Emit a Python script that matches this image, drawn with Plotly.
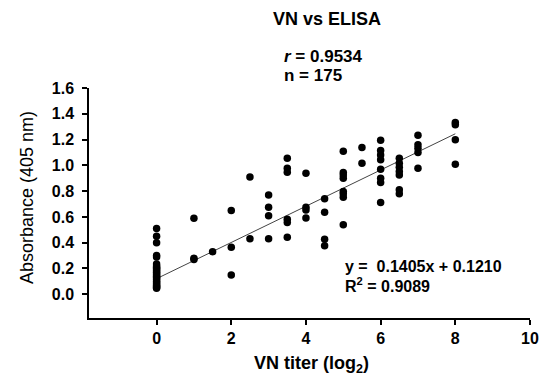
import plotly.graph_objects as go

# VN titer (log2) and absorbance values
x_vals = (
    [0] * 25
    + [1, 1, 1]
    + [1.5]
    + [2, 2, 2]
    + [2.5, 2.5]
    + [3, 3, 3, 3]
    + [3.5] * 6
    + [4] * 4
    + [4.5] * 4
    + [5] * 8
    + [5.5] * 2
    + [6] * 8
    + [6.5] * 7
    + [7] * 5
    + [8] * 4
)
y_vals = (
    [0.51, 0.45, 0.40, 0.30, 0.29, 0.235, 0.22, 0.21, 0.20, 0.19, 0.18, 0.17,
     0.16, 0.15, 0.14, 0.13, 0.12, 0.11, 0.10, 0.09, 0.08, 0.07, 0.06, 0.055, 0.047]
    + [0.59, 0.28, 0.27]
    + [0.33]
    + [0.65, 0.365, 0.15]
    + [0.91, 0.43]
    + [0.77, 0.675, 0.61, 0.43]
    + [1.056, 0.978, 0.947, 0.582, 0.556, 0.443]
    + [0.939, 0.675, 0.654, 0.592]
    + [0.74, 0.637, 0.427, 0.377]
    + [1.11, 0.944, 0.926, 0.90, 0.797, 0.779, 0.753, 0.54]
    + [1.138, 1.017]
    + [1.195, 1.115, 1.08, 1.043, 0.97, 0.90, 0.867, 0.711]
    + [1.056, 1.017, 0.986, 0.952, 0.926, 0.81, 0.779]
    + [1.234, 1.159, 1.133, 1.099, 0.978]
    + [1.332, 1.315, 1.198, 1.009]
)

slope = 0.1405
intercept = 0.1210
fit_x = [0, 8]
fit_y = [slope * v + intercept for v in fit_x]

x_ticks = [0, 2, 4, 6, 8, 10]
y_ticks = [0.0, 0.2, 0.4, 0.6, 0.8, 1.0, 1.2, 1.4, 1.6]

FONT = "Liberation Sans, Arial, sans-serif"

fig = go.Figure()
fig.add_trace(go.Scatter(
    x=fit_x, y=fit_y, mode="lines",
    line=dict(color="#444444", width=1), showlegend=False, hoverinfo="skip"))
fig.add_trace(go.Scatter(
    x=x_vals, y=y_vals, mode="markers",
    marker=dict(color="black", size=7.5, line=dict(width=0)),
    showlegend=False, cliponaxis=False))

fig.update_layout(
    width=546, height=376,
    margin=dict(l=89, r=16, t=88, b=58),
    paper_bgcolor="white", plot_bgcolor="white",
    font=dict(family=FONT, color="black"),
    xaxis=dict(
        range=[-1.81, 10], tickvals=x_ticks, ticktext=[f"<b>{t}</b>" for t in x_ticks],
        showline=True, linecolor="black", linewidth=1.5,
        ticks="outside", ticklen=5, tickwidth=1.5, tickcolor="black",
        showgrid=False, zeroline=False, automargin=False,
        tickfont=dict(size=16, family=FONT),
    ),
    yaxis=dict(
        range=[-0.184, 1.6], tickvals=y_ticks, ticktext=[f"<b>{t:.1f}</b>" for t in y_ticks],
        showline=True, linecolor="black", linewidth=1.5,
        ticks="outside", ticklen=5, tickwidth=1.5, tickcolor="black",
        showgrid=False, zeroline=False, automargin=False,
        tickfont=dict(size=16, family=FONT), ticklabelstandoff=5,
    ),
    annotations=[
        dict(text="<b>VN vs ELISA</b>", xref="x", yref="paper", x=4.566, y=1.30,
             showarrow=False, xanchor="center", yanchor="middle", font=dict(size=18)),
        dict(text="<b><i>r</i> = 0.9534</b>", xref="x", yref="paper", x=3.35, y=1.137,
             showarrow=False, xanchor="left", yanchor="middle", font=dict(size=17)),
        dict(text="<b>n = 175</b>", xref="x", yref="paper", x=3.35, y=1.054,
             showarrow=False, xanchor="left", yanchor="middle", font=dict(size=17)),
        dict(text="<b>y =  0.1405x + 0.1210</b>", xref="x", yref="y", x=4.99, y=0.212,
             showarrow=False, xanchor="left", yanchor="middle", font=dict(size=16)),
        dict(text="<b>R<sup>2</sup> = 0.9089</b>", xref="x", yref="y", x=4.99, y=0.072,
             showarrow=False, xanchor="left", yanchor="middle", font=dict(size=16)),
        dict(text="<b>VN titer (log<sub>2</sub>)</b>", xref="x", yref="paper", x=4.14, y=-0.20,
             showarrow=False, xanchor="center", yanchor="middle", font=dict(size=18)),
        dict(text="Absorbance (405 nm)", xref="paper", yref="paper", x=-0.1406, y=0.526,
             textangle=-90, showarrow=False, xanchor="center", yanchor="middle",
             font=dict(size=18)),
    ],
)

fig.write_html(
    "out.html",
    config={"displayModeBar": False},
    post_script="document.body.style.margin='0';document.body.style.padding='0';"
                "document.documentElement.style.overflow='hidden';",
)
